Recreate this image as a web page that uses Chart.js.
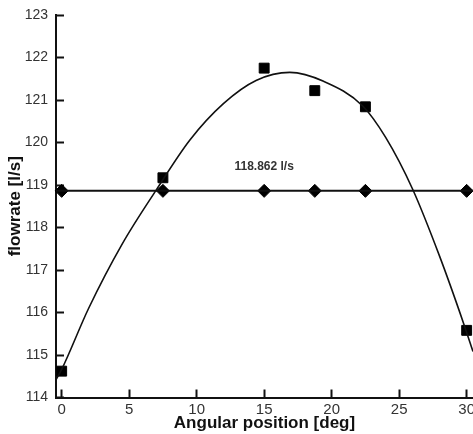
<!DOCTYPE html>
<html>
<head>
<meta charset="utf-8">
<script src="https://cdn.jsdelivr.net/npm/chart.js@4/dist/chart.umd.min.js"></script>
<style>
  html, body { margin: 0; padding: 0; background: #fff; overflow: hidden; }
  #wrap { position: relative; width: 500px; height: 434px; }
</style>
</head>
<body>
<div id="wrap"><canvas id="c"></canvas></div>
<script>
// ---- data ----
const xTicks = [0, 5, 10, 15, 20, 25, 30];
const yTicks = [114, 115, 116, 117, 118, 119, 120, 121, 122, 123];

const angles       = [0, 7.5, 15, 18.75, 22.5, 30];
const measuredFlow = [114.62, 119.17, 121.75, 121.22, 120.84, 115.58];

const meanValue = 118.862;
const meanFlow  = [118.862, 118.862, 118.862, 118.862, 118.862, 118.862];
const meanLineX = [-0.42, 30.47];
const meanLineY = [118.862, 118.862];

const fitX = [-0.42, 0, 2, 4.5, 7, 9.5, 12, 14.4, 16.9, 19.4, 22.3, 24, 26, 28, 29.8, 30.47];
const fitY = [114.42, 114.66, 116.1, 117.62, 118.88, 120.06, 120.92, 121.46, 121.65, 121.44, 120.86, 120.12, 118.9, 117.32, 115.72, 115.08];

const annotationText = '118.862 l/s';
const annotationX = 15;
const annotationY = 119.42;

const xMin = -0.42, xMax = 30.47;
const yMin = 114, yMax = 123;

// ---- build datasets ----
const toXY = (xs, ys) => xs.map((x, i) => ({ x: x, y: ys[i] }));

const annotationPlugin = {
  id: 'meanLabel',
  afterDatasetsDraw(chart) {
    const ctx = chart.ctx;
    const xs = chart.scales.x, ys = chart.scales.y;
    ctx.save();
    ctx.font = 'bold 12px "Liberation Sans", Arial, sans-serif';
    ctx.fillStyle = '#333';
    ctx.textAlign = 'center';
    ctx.textBaseline = 'middle';
    ctx.fillText(annotationText, xs.getPixelForValue(annotationX), ys.getPixelForValue(annotationY));
    ctx.restore();
  }
};

new Chart(document.getElementById('c'), {
  type: 'scatter',
  data: {
    datasets: [
      {
        label: 'fit',
        data: toXY(fitX, fitY),
        showLine: true,
        borderColor: '#111',
        borderWidth: 1.6,
        pointRadius: 0,
        cubicInterpolationMode: 'monotone',
        fill: false
      },
      {
        label: 'mean line',
        data: toXY(meanLineX, meanLineY),
        showLine: true,
        borderColor: '#111',
        borderWidth: 2,
        pointRadius: 0,
        fill: false
      },
      {
        label: 'mean',
        data: toXY(angles, meanFlow),
        pointStyle: 'rectRot',
        pointRadius: 6.5,
        backgroundColor: '#000',
        borderColor: '#000',
        borderWidth: 1,
        clip: false
      },
      {
        label: 'measured',
        data: toXY(angles, measuredFlow),
        pointStyle: 'rect',
        pointRadius: 7,
        backgroundColor: '#000',
        borderColor: '#000',
        borderWidth: 1,
        clip: false
      }
    ]
  },
  options: {
    responsive: true,
    maintainAspectRatio: false,
    animation: false,
    layout: { padding: { top: 15, right: 27, left: 0, bottom: 0 } },
    plugins: {
      legend: { display: false },
      tooltip: { enabled: false }
    },
    scales: {
      x: {
        type: 'linear',
        min: xMin,
        max: xMax,
        afterBuildTicks: s => { s.ticks = xTicks.map(v => ({ value: v })); },
        afterFit: s => { s.height = 36.5; },
        grid: {
          drawOnChartArea: false,
          drawTicks: true,
          tickLength: -8,
          tickWidth: 2,
          tickColor: '#111'
        },
        border: { display: true, color: '#111', width: 2 },
        ticks: {
          padding: 11,
          maxRotation: 0,
          color: '#333',
          font: { family: '"Liberation Sans", Arial, sans-serif', size: 15 }
        },
        title: {
          display: true,
          text: 'Angular position [deg]',
          color: '#111',
          padding: { top: 0, bottom: 0 },
          font: { family: '"Liberation Sans", Arial, sans-serif', size: 17, weight: 'bold' }
        }
      },
      y: {
        type: 'linear',
        min: yMin,
        max: yMax,
        afterBuildTicks: s => { s.ticks = yTicks.map(v => ({ value: v })); },
        afterFit: s => { s.width = 56; s.paddingTop = 0; s.paddingBottom = 0; },
        grid: {
          drawOnChartArea: false,
          drawTicks: true,
          tickLength: -8,
          tickWidth: 2,
          tickColor: '#111'
        },
        border: { display: true, color: '#111', width: 2 },
        ticks: {
          padding: 16,
          color: '#333',
          font: { family: '"Liberation Sans", Arial, sans-serif', size: 14 }
        },
        title: {
          display: true,
          text: 'flowrate [l/s]',
          color: '#111',
          padding: { top: 5, bottom: 0 },
          font: { family: '"Liberation Sans", Arial, sans-serif', size: 17, weight: 'bold' }
        }
      }
    }
  },
  plugins: [annotationPlugin]
});
</script>
</body>
</html>
